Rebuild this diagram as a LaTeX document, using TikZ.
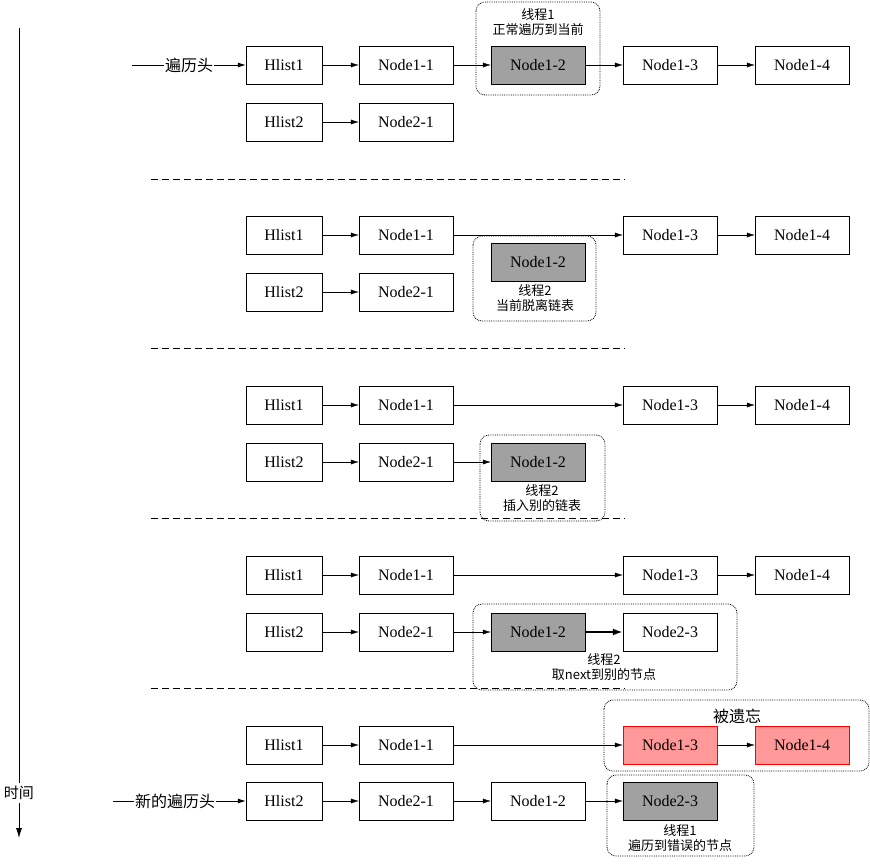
\documentclass[tikz,border=0pt]{standalone}
\usepackage{fontspec}
\setmainfont{Liberation Serif}
\newfontfamily\cjk{Noto Sans CJK SC}
\usetikzlibrary{arrows.meta}
\begin{document}
\begin{tikzpicture}[x=1pt,y=-1pt,
 box/.style={draw,minimum width=94pt,minimum height=38pt,inner sep=0pt,font=\fontsize{16}{16}\selectfont},
 hb/.style={box,minimum width=76pt},
 gray/.style={fill=black!37},
 red/.style={fill=red!40,draw=red},
 ar/.style={-{Latex[length=8pt,width=5pt]}},
 grp/.style={draw,densely dotted,rounded corners=9pt,thick},
 lab/.style={font=\cjk\fontsize{13}{15}\selectfont,align=center}]
\useasboundingbox (0,0) rectangle (870,864);
% time axis
\coordinate (t0) at (19,28); \coordinate (t1) at (19,838);
\draw[thick,-{Latex[length=10pt,width=6pt]}] (t0) -- (t1);
\node[lab,fill=white,font=\cjk\fontsize{15}{15}\selectfont] (time) at (19,793) {时间};
% dashed separators
\foreach \y/\n in {179/a,348/b,518/c,688/d}{
 \coordinate (s\n0) at (151,\y); \coordinate (s\n1) at (625,\y);
 \draw[dash pattern=on 7pt off 4pt] (s\n0) -- (s\n1);}
% groups
\draw[grp] (476,2) rectangle (600,95);
\draw[grp] (473,236) rectangle (596,321);
\draw[grp] (480,435) rectangle (605,521);
\draw[grp] (473,604) rectangle (737,690);
\draw[grp] (604,700) rectangle (869,771);
\draw[grp] (607,775) rectangle (754,856);
\node[lab] (g1) at (538,22) {线程1\\正常遍历到当前};
\node[lab] (g2) at (535,298) {线程2\\当前脱离链表};
\node[lab] (g3) at (542,498) {线程2\\插入别的链表};
\node[lab] (g4) at (604,667) {线程2\\取next到别的节点};
\node[lab,font=\cjk\fontsize{16}{16}\selectfont] (g5) at (737,716) {被遗忘};
\node[lab] (g6) at (680,838) {线程1\\遍历到错误的节点};
% section 1
\node[hb] (aH1) at (284,65) {Hlist1};
\node[box] (aN11) at (406,65) {Node1-1};
\node[box,gray] (aN12) at (538,65) {Node1-2};
\node[box] (aN13) at (670,65) {Node1-3};
\node[box] (aN14) at (802,65) {Node1-4};
\node[hb] (aH2) at (284,122) {Hlist2};
\node[box] (aN21) at (406,122) {Node2-1};
\node[lab,font=\cjk\fontsize{16}{16}\selectfont,fill=white,inner sep=1pt] (head) at (189,65) {遍历头};
\coordinate (hs) at (132,65);
\draw[thick] (hs) -- (head);
\draw[thick,ar] (head) -- (aH1);
\draw[ar] (aH1)--(aN11); \draw[ar] (aN11)--(aN12); \draw[ar] (aN12)--(aN13); \draw[ar] (aN13)--(aN14);
\draw[ar] (aH2)--(aN21);
% sections 2-4
\foreach \s/\ya/\yb in {b/235/292,c/405/462,d/575/632}{
 \node[hb] (\s H1) at (284,\ya) {Hlist1};
 \node[box] (\s N11) at (406,\ya) {Node1-1};
 \node[box] (\s N13) at (670,\ya) {Node1-3};
 \node[box] (\s N14) at (802,\ya) {Node1-4};
 \node[hb] (\s H2) at (284,\yb) {Hlist2};
 \node[box] (\s N21) at (406,\yb) {Node2-1};
 \draw[ar] (\s H1)--(\s N11); \draw[ar] (\s N11)--(\s N13); \draw[ar] (\s N13)--(\s N14);
 \draw[ar] (\s H2)--(\s N21);}
\node[box,gray] (bN12) at (538,262) {Node1-2};
\node[box,gray] (cN12) at (538,462) {Node1-2};
\draw[ar] (cN21)--(cN12);
\node[box,gray] (dN12) at (538,632) {Node1-2};
\node[box] (dN23) at (670,632) {Node2-3};
\draw[ar] (dN21)--(dN12);
\draw[line width=2pt,-{Latex[length=10pt,width=7pt]}] (dN12)--(dN23);
% section 5
\node[hb] (eH1) at (284,745) {Hlist1};
\node[box] (eN11) at (406,745) {Node1-1};
\node[box,red] (eN13) at (670,745) {Node1-3};
\node[box,red] (eN14) at (802,745) {Node1-4};
\node[hb] (eH2) at (284,801) {Hlist2};
\node[box] (eN21) at (406,801) {Node2-1};
\node[box] (eN12) at (538,801) {Node1-2};
\node[box,gray] (eN23) at (670,801) {Node2-3};
\draw[ar] (eH1)--(eN11); \draw[ar] (eN11)--(eN13); \draw[ar] (eN13)--(eN14);
\draw[ar] (eH2)--(eN21); \draw[ar] (eN21)--(eN12); \draw[ar] (eN12)--(eN23);
\node[lab,font=\cjk\fontsize{16}{16}\selectfont,fill=white,inner sep=1pt] (nhead) at (175,801) {新的遍历头};
\coordinate (nhs) at (113,801);
\draw[thick] (nhs) -- (nhead);
\draw[thick,ar] (nhead) -- (eH2);
\end{tikzpicture}
\end{document}
